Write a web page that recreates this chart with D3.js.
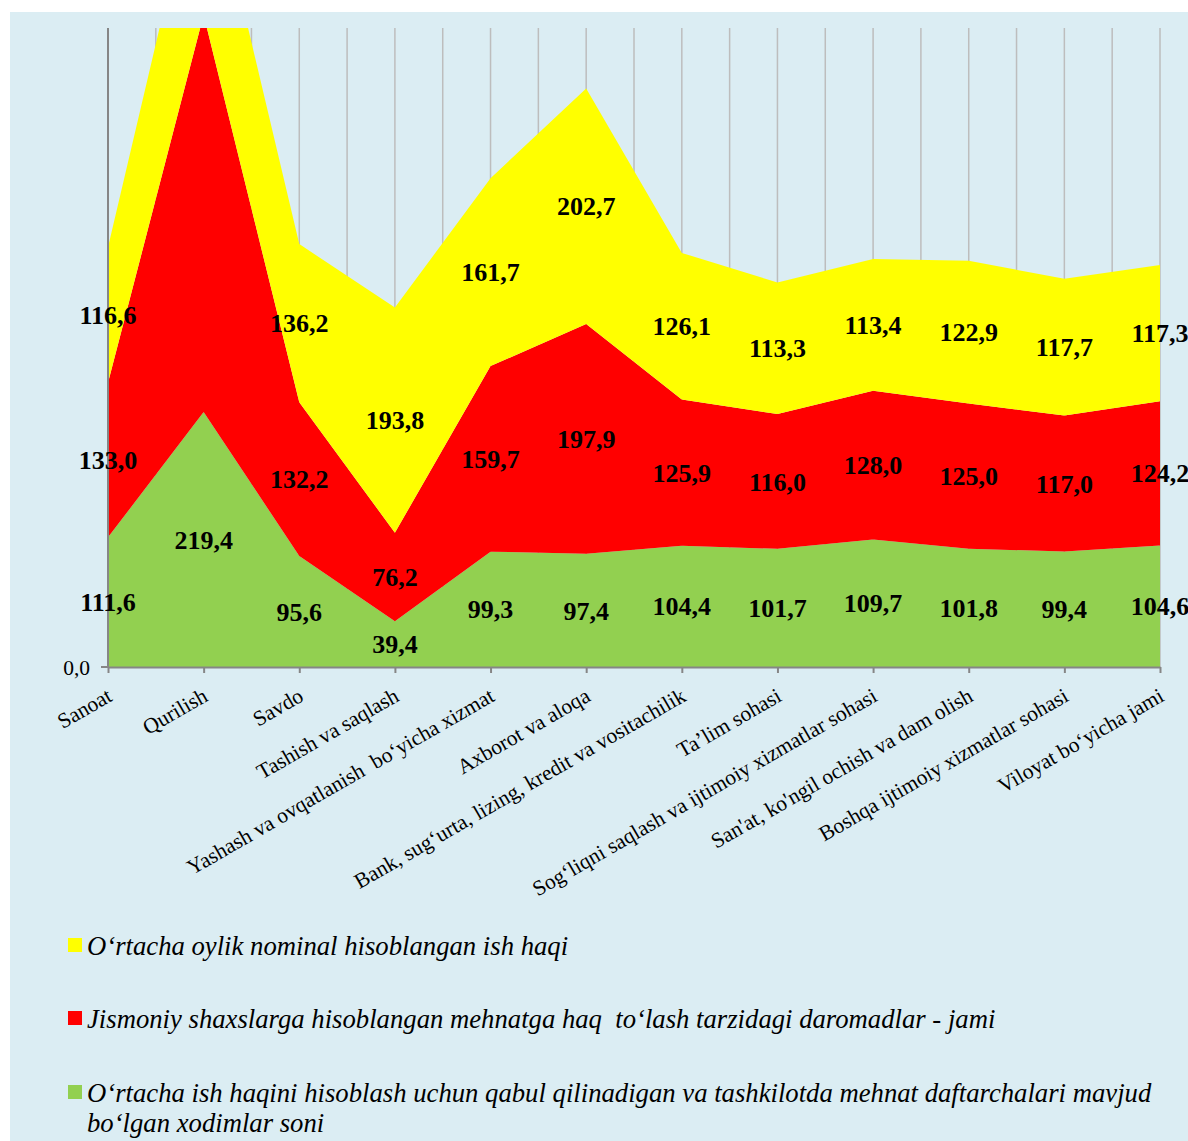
<!DOCTYPE html>
<html>
<head>
<meta charset="utf-8">
<script src="https://cdn.jsdelivr.net/npm/d3@7"></script>
<style>
  body { margin: 0; background: #fff; }
  text { font-family: "Liberation Serif", "Times New Roman", serif; }
</style>
</head>
<body>
<div id="chart"></div>
<script>
// categories (x axis)
const categories = [
    "Sanoat",
    "Qurilish",
    "Savdo",
    "Tashish va saqlash",
    "Yashash va ovqatlanish  bo‘yicha xizmat",
    "Axborot va aloqa",
    "Bank, sug‘urta, lizing, kredit va vositachilik",
    "Ta’lim sohasi",
    "Sog‘liqni saqlash va ijtimoiy xizmatlar sohasi",
    "San'at, ko'ngil ochish va dam olish",
    "Boshqa ijtimoiy xizmatlar sohasi",
    "Viloyat bo‘yicha jami"
];

// series values (bottom to top)
const xodimlar = [111.6, 219.4, 95.6, 39.4, 99.3, 97.4, 104.4, 101.7, 109.7, 101.8, 99.4, 104.6];
// Qurilish value is off the chart (estimated from the clipped shape)
const daromadlar = [133.0, 342.0, 132.2, 76.2, 159.7, 197.9, 125.9, 116.0, 128.0, 125.0, 117.0, 124.2];
const ishHaqi = [116.6, 150.0, 136.2, 193.8, 161.7, 202.7, 126.1, 113.3, 113.4, 122.9, 117.7, 117.3];

const seriesKeys = ["xodimlar", "daromadlar", "ishHaqi"];
const seriesColors = { xodimlar: "#92D050", daromadlar: "#FF0000", ishHaqi: "#FFFF00" };

// legend (top to bottom)
const legendItems = [
    { key: "ishHaqi", lines: ["O‘rtacha oylik nominal hisoblangan ish haqi"] },
    { key: "daromadlar", lines: ["Jismoniy shaxslarga hisoblangan mehnatga haq  to‘lash tarzidagi daromadlar - jami"] },
    { key: "xodimlar", lines: ["O‘rtacha ish haqini hisoblash uchun qabul qilinadigan va tashkilotda mehnat daftarchalari mavjud",
                               "bo‘lgan xodimlar soni"] }
];

const yMax = 550;

const table = categories.map((c, i) => ({
    category: c,
    xodimlar: xodimlar[i],
    daromadlar: daromadlar[i],
    ishHaqi: ishHaqi[i]
}));

const width = 1188;
const height = 1141;
const plot = { left: 108, right: 1160, top: 28, bottom: 667 };
const serif = "'Liberation Serif', 'Times New Roman', serif";

const svg = d3.select("#chart")
    .append("svg")
    .attr("width", width)
    .attr("height", height);

// chart background
svg.append("rect")
    .attr("x", 10)
    .attr("y", 12)
    .attr("width", width - 10)
    .attr("height", height - 12)
    .attr("fill", "#DBEDF3");

const x = d3.scalePoint()
    .domain(categories)
    .range([plot.left, plot.right]);

const y = d3.scaleLinear()
    .domain([0, yMax])
    .range([plot.bottom, plot.top]);

// vertical gridlines, at categories and half way between them
const gridX = [];
categories.forEach((c, i) => {
    gridX.push(x(c));
    if (i < categories.length - 1) gridX.push(x(c) + x.step() / 2);
});

svg.append("g")
    .selectAll("line")
    .data(gridX)
    .enter().append("line")
    .attr("x1", d => d)
    .attr("x2", d => d)
    .attr("y1", plot.top)
    .attr("y2", plot.bottom)
    .attr("stroke", "#BDBDBD")
    .attr("stroke-width", 1.5);

// clip for the areas
svg.append("clipPath")
    .attr("id", "plot-clip")
    .append("rect")
    .attr("x", plot.left)
    .attr("y", plot.top)
    .attr("width", plot.right - plot.left)
    .attr("height", plot.bottom - plot.top);

const stack = d3.stack().keys(seriesKeys);
const stacked = stack(table);

const area = d3.area()
    .x(d => x(d.data.category))
    .y0(d => y(d[0]))
    .y1(d => y(d[1]));

svg.append("g")
    .attr("clip-path", "url(#plot-clip)")
    .selectAll("path")
    .data(stacked)
    .enter().append("path")
    .attr("d", area)
    .attr("fill", d => seriesColors[d.key]);

// axes
const axisColor = "#868686";

svg.append("line")
    .attr("x1", plot.left).attr("x2", plot.left)
    .attr("y1", plot.top).attr("y2", plot.bottom)
    .attr("stroke", axisColor)
    .attr("stroke-width", 2);

svg.append("line")
    .attr("x1", plot.left - 7).attr("x2", plot.left)
    .attr("y1", y(0)).attr("y2", y(0))
    .attr("stroke", axisColor)
    .attr("stroke-width", 2);

svg.append("text")
    .attr("x", plot.left - 18)
    .attr("y", y(0))
    .attr("dy", "0.35em")
    .attr("text-anchor", "end")
    .style("font-family", serif)
    .style("font-size", "21.5px")
    .text("0,0");

const xAxis = svg.append("g")
    .attr("transform", `translate(0,${plot.bottom})`)
    .call(d3.axisBottom(x).tickSize(6).tickSizeOuter(0));

xAxis.select(".domain")
    .attr("stroke", axisColor)
    .attr("stroke-width", 2);

xAxis.selectAll(".tick line")
    .attr("stroke", axisColor)
    .attr("stroke-width", 2);

xAxis.selectAll(".tick text")
    .attr("x", 0)
    .attr("y", 0)
    .attr("dy", 0)
    .attr("transform", "translate(5,33) rotate(-30)")
    .style("text-anchor", "end")
    .style("white-space", "pre")
    .style("font-size", "21.5px")
    .style("font-family", serif)
    .attr("fill", "#000");

// value labels, centred in each band
const fmt = v => d3.format(".1f")(v).replace(".", ",");

const labelGroup = svg.append("g");
stacked.forEach(s => {
    s.forEach(d => {
        if (d[1] > yMax) return; // off the chart, Excel hides these
        labelGroup.append("text")
            .attr("x", x(d.data.category))
            .attr("y", y((d[0] + d[1]) / 2))
            .attr("dy", "0.35em")
            .attr("text-anchor", "middle")
            .style("font-family", serif)
            .style("font-size", "26px")
            .style("font-weight", "bold")
            .text(fmt(d[1] - d[0]));
    });
});

// legend
const legendTop = [945, 1018, 1092];
const legend = svg.append("g");
legendItems.forEach((item, i) => {
    legend.append("rect")
        .attr("x", 68)
        .attr("y", legendTop[i] - 7)
        .attr("width", 14)
        .attr("height", 14)
        .attr("fill", seriesColors[item.key]);

    item.lines.forEach((line, j) => {
        legend.append("text")
            .attr("x", 87)
            .attr("y", legendTop[i] + 10 + j * 30)
            .style("font-family", serif)
            .style("font-size", "26.7px")
            .style("font-style", "italic")
            .style("white-space", "pre")
            .text(line);
    });
});
</script>
</body>
</html>
